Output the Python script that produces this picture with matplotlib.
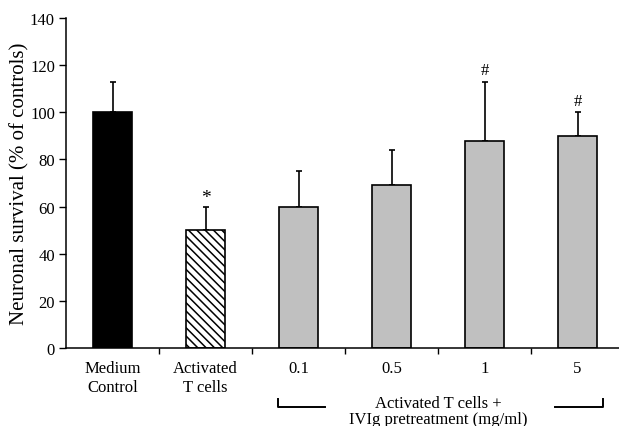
import matplotlib
matplotlib.use("Agg")
import matplotlib.pyplot as plt
import matplotlib.transforms as mtransforms
import numpy as np

plt.rcParams['font.family'] = ['Liberation Serif', 'DejaVu Serif']
plt.rcParams['hatch.linewidth'] = 1.1

categories = ["Medium\nControl", "Activated\nT cells", "0.1", "0.5", "1", "5"]
survival = [100, 50, 60, 69, 88, 90]
sd_upper = [13, 10, 15, 15, 25, 10]
marks = ["", "*", "", "", "#", "#"]
fills = ["black", "white", "#c0c0c0", "#c0c0c0", "#c0c0c0", "#c0c0c0"]
hatches = [None, "\\\\\\\\", None, None, None, None]
yticks = [0, 20, 40, 60, 80, 100, 120, 140]
group_label = "Activated T cells +\nIVIg pretreatment (mg/ml)"
ylabel = "Neuronal survival (% of controls)"

W, H = 619, 427
AX_BOTTOM, AX_TOP = 349, 19
fig = plt.figure(figsize=(W / 100, H / 100), dpi=100)
ax = fig.add_axes([66 / W, (H - AX_BOTTOM) / H, 1 - 66 / W, (AX_BOTTOM - AX_TOP) / H])


def yfrac(py):
    return (AX_BOTTOM - py) / (AX_BOTTOM - AX_TOP)


x = np.arange(len(categories))
for i in range(len(categories)):
    ax.bar(x[i], survival[i], width=0.41, color=fills[i], edgecolor="black",
           linewidth=1.2, hatch=hatches[i], zorder=2)
ax.errorbar(x, survival, yerr=[np.zeros(len(x)), sd_upper], fmt="none",
            ecolor="black", elinewidth=1.2, capsize=2.3, capthick=1.2, zorder=1)
for i, m in enumerate(marks):
    if m:
        ax.text(x[i], survival[i] + sd_upper[i] + (0.3 if m == "*" else 1.5), m,
                ha="center", va="bottom", fontsize=14 if m == "*" else 12)

ax.set_xlim(-0.5, 5.446)
ax.set_ylim(0, 140)
ax.set_yticks(yticks)
ax.set_xticks(x)
ax.set_xticklabels(categories, fontsize=12, linespacing=1.25)
ax.set_xticks(x[:-1] + 0.5, minor=True)
ax.tick_params(axis="x", which="major", length=0, pad=9)
ax.tick_params(axis="x", which="minor", length=4, width=1, direction="out")
ax.tick_params(axis="y", length=5, width=1, direction="out", labelsize=12, pad=3)
for s in ["top", "right"]:
    ax.spines[s].set_visible(False)
ax.spines["left"].set_linewidth(1.1)
ax.spines["bottom"].set_linewidth(1.1)
ax.set_ylabel(ylabel, fontsize=15, labelpad=0)

trans = mtransforms.blended_transform_factory(ax.transData, ax.transAxes)
yb = yfrac(408)
yt = yfrac(400)
ax.plot([1.78, 1.78, 2.285], [yt, yb, yb], color="black", lw=1.4, transform=trans, clip_on=False)
ax.plot([4.758, 5.274, 5.274], [yb, yb, yt], color="black", lw=1.4, transform=trans, clip_on=False)
ax.text(3.5, yfrac(412), group_label, transform=trans, ha="center", va="center",
        fontsize=12, linespacing=0.97, multialignment="center")

fig.savefig("out.png", dpi=100)
